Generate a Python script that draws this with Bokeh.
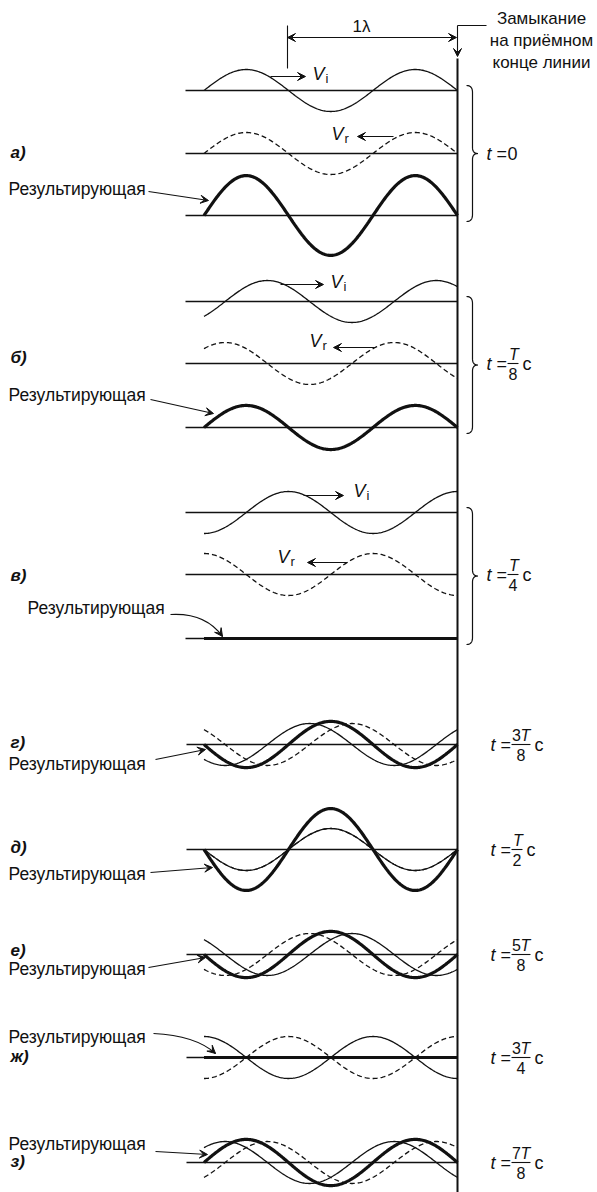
import numpy as np
from bokeh.plotting import figure
from bokeh.models import Range1d, Arrow, VeeHead
from bokeh.core.properties import value
from bokeh.embed import file_html
from bokeh.resources import INLINE

# ---------------- data ----------------
panel_labels = ["а)", "б)", "в)", "г)", "д)", "е)", "ж)", "з)"]
time_eighths = [0, 1, 2, 3, 4, 5, 6, 7]          # t in units of T/8
time_num_digit = ["0", "", "", "3", "", "5", "3", "7"]
time_num_T = ["", "T", "T", "T", "T", "T", "T", "T"]
time_den = ["", "8", "4", "8", "2", "8", "4", "8"]
incident_amp = [1.0, 1.0, 1.0, 1.0, 1.0, 1.0, 1.0, 1.0]
reflected_amp = [1.0, 1.0, 1.0, 1.0, 1.0, 1.0, 1.0, 1.0]
resultant_amp = [1.9, 1.05, 0.0, 1.1, 1.95, 1.1, 0.0, 1.1]
line_length_wavelengths = 1.5
result_label = "Результирующая"
end_label = ["Замыкание", "на приёмном", "конце линии"]
lambda_label = "1λ"

# ---------------- layout ----------------
FONT = "Liberation Sans"
INK = "#111111"
X_END = 457.0
LAM = 169.0
AMP = 21.0

p = figure(width=597, height=1192, x_range=Range1d(0, 597), y_range=Range1d(1192, 0),
           output_backend="svg", toolbar_location=None, min_border=0,
           x_axis_location=None, y_axis_location=None, outline_line_color=None)
p.xgrid.visible = False
p.ygrid.visible = False


def txt(x, y, s, size=16, style="normal", align="left", baseline="middle"):
    p.text(x=[x], y=[y], text=[s], text_font=value(FONT), text_font_size=f"{size}px",
           text_font_style=style, text_align=align, text_baseline=baseline, text_color=INK)


def arrow(x0, y0, x1, y1, size=8, both=False, lw=1.1):
    kw = dict(end=VeeHead(size=size, fill_color=INK, line_color=INK, line_width=1),
              x_start=x0, y_start=y0, x_end=x1, y_end=y1, line_width=lw, line_color=INK)
    if both:
        kw["start"] = VeeHead(size=size, fill_color=INK, line_color=INK, line_width=1)
    p.add_layout(Arrow(**kw))


def curved_arrow(x0, y0, cx, cy, x1, y1):
    p.quadratic(x0=[x0], y0=[y0], cx=[cx], cy=[cy], x1=[x1], y1=[y1], line_color=INK, line_width=1.1)
    dx, dy = x1 - cx, y1 - cy
    n = np.hypot(dx, dy)
    arrow(x1 - 3 * dx / n, y1 - 3 * dy / n, x1, y1)


def qbez(p0, c, p1, n=14):
    t = np.linspace(0, 1, n)
    x = (1 - t) ** 2 * p0[0] + 2 * (1 - t) * t * c[0] + t ** 2 * p1[0]
    y = (1 - t) ** 2 * p0[1] + 2 * (1 - t) * t * c[1] + t ** 2 * p1[1]
    return list(x), list(y)


def brace(y0, y1, xa=466.0, xb=472.0, xt=477.5):
    ym = (y0 + y1) / 2
    xs, ys = [], []
    for seg in [qbez((xa, y0), (xb, y0), (xb, y0 + 7)),
                ([xb, xb], [y0 + 7, ym - 6]),
                qbez((xb, ym - 6), (xb, ym), (xt, ym)),
                qbez((xt, ym), (xb, ym), (xb, ym + 6)),
                ([xb, xb], [ym + 6, y1 - 7]),
                qbez((xb, y1 - 7), (xb, y1), (xa, y1))]:
        xs += list(seg[0])
        ys += list(seg[1])
    p.line(xs, ys, line_color=INK, line_width=1.2)


def time_label(i, y, xt):
    txt(xt, y, "t", 18, "italic")
    txt(xt + 10, y, "=", 18)
    if time_den[i] == "":
        txt(xt + 21, y, time_num_digit[i], 18)
        return
    digit = time_num_digit[i]
    bx0 = xt + 21
    if digit:
        bx1 = bx0 + 19
        txt(bx0 + 0.5, y - 9.5, digit, 16)
        txt(bx0 + 9, y - 9.5, time_num_T[i], 16, "italic")
    else:
        bx1 = bx0 + 11
        txt((bx0 + bx1) / 2 + 1, y - 9.5, time_num_T[i], 16, "italic", align="center")
    p.segment(x0=[bx0], y0=[y], x1=[bx1], y1=[y], line_color=INK, line_width=1.1)
    txt((bx0 + bx1) / 2, y + 10.5, time_den[i], 16, align="center")
    txt(bx1 + 4, y, "с", 18)


z = np.linspace(-line_length_wavelengths, 0.0, 240)
xw = X_END + z * LAM


def waves(i):
    theta = 2 * np.pi * time_eighths[i] / 8.0
    vi = incident_amp[i] * np.sin(theta - 2 * np.pi * z)
    vr = -reflected_amp[i] * np.sin(theta + 2 * np.pi * z)
    sgn = 1.0 if np.cos(theta) >= 0 else -1.0
    res = resultant_amp[i] * sgn * np.sin(-2 * np.pi * z)
    return vi, vr, res


def base(y, x0):
    p.segment(x0=[x0], y0=[y], x1=[X_END], y1=[y], line_color=INK, line_width=1.6)


# ---------- top annotations ----------
p.segment(x0=[X_END], y0=[58], x1=[X_END], y1=[1192], line_color=INK, line_width=2)
p.segment(x0=[X_END], y0=[25], x1=[486], y1=[25], line_color=INK, line_width=1.1)
arrow(X_END, 25, X_END, 56)
for k, s in enumerate(end_label):
    txt(541, 18 + 22 * k, s, 17, align="center")
p.segment(x0=[287], y0=[25], x1=[287], y1=[68], line_color=INK, line_width=1.1)
arrow(287, 37, 456, 37, both=True)
txt(361, 26, lambda_label, 17, align="center")

# ---------- upper panels (separate lines) ----------
upper_rows = [(90, 153, 215), (301, 363, 427), (512, 574, 638)]
upper_letter_y = [152, 357, 575]
upper_result_txt = [(8, 188), (8, 394), (27, 607)]
vi_arrows = [((270, 76), (305, 76), 318, 73), ((280, 284), (323, 284), 336, 281), ((303, 495), (343, 495), 359, 490)]
vr_arrows = [((393, 136), (357, 136), 337, 133), ((375, 347), (333, 347), 315, 340), ((347, 562), (307, 562), 283, 556)]

for i in range(3):
    yi, yr, ys = upper_rows[i]
    vi, vr, res = waves(i)
    for yb in (yi, yr, ys):
        base(yb, 185)
    p.line(xw, yi - AMP * vi, line_color=INK, line_width=1.3)
    p.line(xw, yr - AMP * vr, line_color=INK, line_width=1.3, line_dash="5 3")
    p.line(xw, ys - AMP * res, line_color=INK, line_width=3.2)
    txt(10, upper_letter_y[i], panel_labels[i], 17, "bold italic")
    tx, ty = upper_result_txt[i]
    txt(tx, ty, result_label, 17.5)
    (a0, a1, vx, vy) = vi_arrows[i]
    arrow(a0[0], a0[1], a1[0], a1[1])
    txt(vx, vy, "V", 18, "italic", align="center")
    txt(vx + 7, vy + 5, "i", 13)
    (a0, a1, vx, vy) = vr_arrows[i]
    arrow(a0[0], a0[1], a1[0], a1[1])
    txt(vx, vy, "V", 18, "italic", align="center")
    txt(vx + 7, vy + 5, "r", 13)
    brace(yi - 5, ys + 6)
    time_label(i, yr, 486)

arrow(148, 191, 208, 200)
arrow(150, 399, 213, 413)
curved_arrow(170, 614, 205, 612, 222, 636)

# ---------- lower panels (superimposed) ----------
lower_base = [744, 849, 954, 1057, 1162]
lower_letter_y = [742, 847, 950, 1056, 1161]
lower_result_y = [763, 873, 968, 1036, 1143]
for j in range(5):
    i = 3 + j
    yb = lower_base[j]
    vi, vr, res = waves(i)
    base(yb, 186)
    p.line(xw, yb - AMP * vi, line_color=INK, line_width=1.3)
    p.line(xw, yb - AMP * vr, line_color=INK, line_width=1.3, line_dash="5 3")
    p.line(xw, yb - AMP * res, line_color=INK, line_width=3.2)
    txt(10, lower_letter_y[j], panel_labels[i], 17, "bold italic")
    txt(8, lower_result_y[j], result_label, 17.5)
    time_label(i, yb, 490)

arrow(155, 759, 205, 749)
arrow(150, 872, 212, 867)
arrow(148, 967, 205, 957)
curved_arrow(153, 1033, 195, 1035, 215, 1053)
arrow(155, 1151, 207, 1154)

open("out.html", "w").write(file_html(p, INLINE))
